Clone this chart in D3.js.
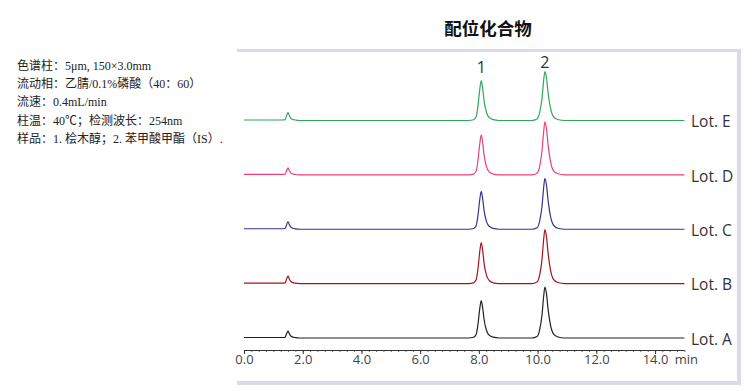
<!DOCTYPE html>
<html><head><meta charset="utf-8">
<script src="https://cdn.jsdelivr.net/npm/d3@7"></script>
<style>
html,body{margin:0;padding:0;background:#fff;}
svg{display:block;}
</style></head>
<body>
<svg id="chart" width="752" height="391"></svg>
<script>
// ---- data ----
const title = "配位化合物";
const conditions = [
  "色谱柱：5μm, 150×3.0mm",
  "流动相：乙腈/0.1%磷酸（40：60）",
  "流速：0.4mL/min",
  "柱温：40℃；检测波长：254nm",
  "样品：1. 桧木醇；2. 苯甲酸甲酯（IS）."
];
const lots = ["Lot. A", "Lot. B", "Lot. C", "Lot. D", "Lot. E"];
const lotColors = ["#222222", "#a3121f", "#35358f", "#ee3f78", "#2ea85a"];
const xTickValues = [0, 2, 4, 6, 8, 10, 12, 14];
const xTickLabels = ["0.0", "2.0", "4.0", "6.0", "8.0", "10.0", "12.0", "14.0"];
const xUnit = "min";
const peakLabels = ["1", "2"];
const peakTimes = [8.08, 10.25];
const peakLabelHeights = [47.5, 52.5];

// retention time grid (min)
const time = [0, 1.30, 1.40, 1.45, 1.50, 1.55, 1.62, 1.75, 1.90,
  7.65, 7.82, 7.91, 7.97, 8.03, 8.08, 8.13, 8.18, 8.26, 8.36, 8.49, 8.68,
  9.80, 9.98, 10.07, 10.15, 10.21, 10.25, 10.30, 10.36, 10.44, 10.54, 10.69, 10.93,
  15.0];
// detector response per lot (arbitrary units)
const lotA = [0.5,0.5,0.7,4.2,7,3.9,1.4,0.4,0,
  0,0.8,3.8,13.9,29.3,37.5,30,18,7.5,2.6,0.8,0,
  0,1.5,8.2,23,42.8,51,44.9,28.1,12.8,4.1,1,0, 0];
const lotB = [0.5,0.5,0.75,4.5,7.5,4.1,1.5,0.45,0,
  0,0.8,4.1,15.2,32,41,32.8,19.7,8.2,2.9,0.8,0,
  0,1.6,8.6,24.3,45.4,54,47.5,29.7,13.5,4.3,1.1,0, 0];
const lotC = [0.5,0.5,0.75,4.5,7.5,4.1,1.5,0.45,0,
  0,0.8,3.8,14.1,29.6,38,30.4,18.2,7.6,2.7,0.8,0,
  0,1.5,8.2,23,42.8,51,44.9,28.1,12.8,4.1,1,0, 0];
const lotD = [0.5,0.5,0.7,4.2,7,3.9,1.4,0.4,0,
  0,0.8,4,14.8,31.2,40,32,19.2,8,2.8,0.8,0,
  0,1.6,8.5,23.9,44.5,53,46.6,29.2,13.3,4.2,1.1,0, 0];
const lotE = [0.5,0.5,0.8,4.8,8,4.4,1.6,0.5,0,
  0,0.8,4,14.8,31.2,40,32,19.2,8,2.8,0.8,0,
  0,1.5,7.8,22,41.2,49,43.1,27,12.3,3.9,1,0, 0];
const lotValues = [lotA, lotB, lotC, lotD, lotE];

// ---- drawing ----
const svg = d3.select("#chart");
const frameColor = "#dcd9ea";

// frame
svg.append("rect").attr("x", 237).attr("y", 49).attr("width", 504).attr("height", 3).attr("fill", frameColor);
svg.append("rect").attr("x", 737).attr("y", 49).attr("width", 4).attr("height", 336).attr("fill", frameColor);
svg.append("rect").attr("x", 237).attr("y", 381).attr("width", 504).attr("height", 4).attr("fill", frameColor);

// title
svg.append("text").attr("x", 488).attr("y", 35).attr("text-anchor", "middle")
  .attr("font-family", "'Noto Sans CJK SC', sans-serif").attr("font-weight", "bold")
  .attr("font-size", 17.5).attr("fill", "#111").text(title);

// conditions
svg.append("g").selectAll("text").data(conditions).join("text")
  .attr("x", 17).attr("y", (d, i) => 70 + i * 18.2)
  .attr("font-family", "'Liberation Serif', 'Noto Sans CJK SC', serif")
  .attr("font-size", 12).attr("fill", "#222").text(d => d);

const x = d3.scaleLinear().domain([0, 15]).range([244, 684.4]);
const lane = d3.scalePoint().domain(lots).range([338, 120.5]);
const yAmp = d3.scaleLinear().domain([0, 100]).range([0, 100]);

// traces
lots.forEach((lot, li) => {
  const vals = lotValues[li];
  const line = d3.line()
    .x((d, i) => x(time[i]))
    .y(d => lane(lot) - yAmp(d))
    .curve(d3.curveMonotoneX);
  svg.append("path").datum(vals).attr("d", line)
    .attr("fill", "none").attr("stroke", lotColors[li]).attr("stroke-width", 1.2)
    .attr("stroke-linejoin", "round");
  svg.append("text").attr("x", 691).attr("y", lane(lot) + 2.5)
    .attr("dominant-baseline", "middle")
    .attr("font-family", "'Open Sans', sans-serif").attr("font-size", 15.5)
    .attr("fill", "#333").text(lot);
});

// peak labels
svg.append("g").selectAll("text").data(peakLabels).join("text")
  .attr("x", (d, i) => x(peakTimes[i]))
  .attr("y", (d, i) => lane("Lot. E") - peakLabelHeights[i])
  .attr("text-anchor", "middle")
  .attr("font-family", "'Open Sans', sans-serif").attr("font-size", 16)
  .attr("fill", "#333").text(d => d);

// x axis
const axisY = 350;
const gAxis = svg.append("g").attr("transform", `translate(0,${axisY})`);
gAxis.call(d3.axisBottom(x).tickValues(d3.range(0, 15.01, 0.25)).tickSize(2).tickFormat(""))
  .call(g => g.select(".domain").remove());
gAxis.selectAll(".tick line").attr("stroke", "#444").attr("stroke-width", 0.8);
const gMaj = svg.append("g").attr("transform", `translate(0,${axisY})`);
gMaj.call(d3.axisBottom(x).tickValues(xTickValues).tickSize(4)
  .tickFormat((d, i) => xTickLabels[i]).tickPadding(0.5))
  .call(g => g.select(".domain").attr("d", `M${x(0)},0.5H${x(15)}`).attr("stroke", "#333"));
gMaj.selectAll(".tick line").attr("stroke", "#333");
gMaj.selectAll(".tick text").attr("font-family", "'Open Sans', sans-serif")
  .attr("font-size", 13).attr("fill", "#444");
svg.append("text").attr("x", x(15) + 2).attr("y", axisY + 13.5).attr("text-anchor", "middle")
  .attr("font-family", "'Open Sans', sans-serif").attr("font-size", 13)
  .attr("fill", "#444").text(xUnit);
</script>
</body></html>
